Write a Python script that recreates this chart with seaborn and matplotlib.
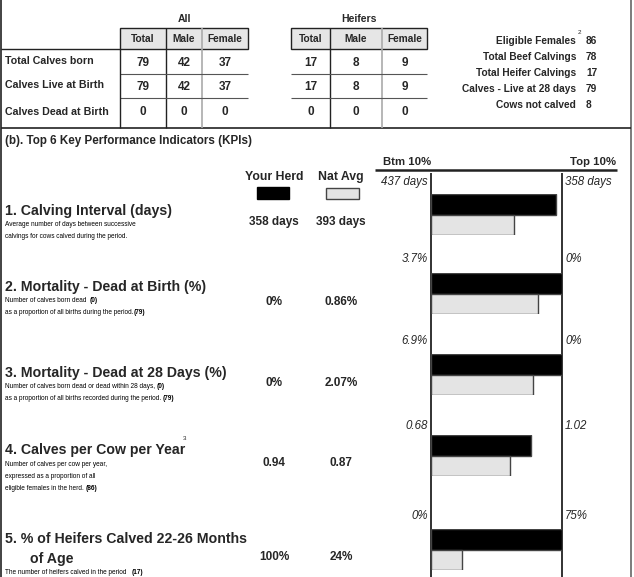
import numpy as np
import pandas as pd
import seaborn as sns
import matplotlib.pyplot as plt

sns.set_theme(style="white")
plt.rcParams['font.family'] = ['Liberation Sans', 'DejaVu Sans']

W, H = 634, 577

# (a) calving summary
row_labels = ["Total Calves born", "Calves Live at Birth", "Calves Dead at Birth"]
col_labels = ["Total", "Male", "Female"]
all_total = [79, 79, 0]
all_male = [42, 42, 0]
all_female = [37, 37, 0]
heifer_total = [17, 17, 0]
heifer_male = [8, 8, 0]
heifer_female = [9, 9, 0]

summary_labels = ["Eligible Females", "Total Beef Calvings", "Total Heifer Calvings",
                  "Calves - Live at 28 days", "Cows not calved"]
summary_values = [86, 78, 17, 79, 8]

# (b) KPIs
kpi_titles = ["1. Calving Interval (days)", "2. Mortality - Dead at Birth (%)",
              "3. Mortality - Dead at 28 Days (%)", "4. Calves per Cow per Year",
              "5. % of Heifers Calved 22-26 Months"]
kpi_desc = [
    [[("Average number of days between successive", False)],
     [("calvings for cows calved during the period.", False)]],
    [[("Number of calves born dead  ", False), ("(0)", True)],
     [("as a proportion of all births during the period.", False), ("(79)", True)]],
    [[("Number of calves born dead or dead within 28 days, ", False), ("(0)", True)],
     [("as a proportion of all births recorded during the period. ", False), ("(79)", True)]],
    [[("Number of calves per cow per year,", False)],
     [("expressed as a proportion of all", False)],
     [("eligible females in the herd. ", False), ("(86)", True)]],
    [[("The number of heifers calved in the period   ", False), ("(17)", True)]],
]
herd_text = ["358 days", "0%", "0%", "0.94", "100%"]
nat_text = ["393 days", "0.86%", "2.07%", "0.87", "24%"]
btm_text = ["437 days", "3.7%", "6.9%", "0.68", "0%"]
top_text = ["358 days", "0%", "0%", "1.02", "75%"]
# bar length as share of the Btm 10% -> Top 10% range
herd_score = [0.955, 1.0, 1.0, 0.76, 1.0]
nat_score = [0.63, 0.82, 0.78, 0.60, 0.24]

# layout (pixels from top)
title_y = [211, 287, 373, 450, 539]
desc_y = [225, 300, 387, 464, 572]
value_y = [222, 302, 383, 463, 557]
range_y = [182, 259, 341, 426, 516]
bar_top = [194, 273, 354, 435, 529]

fig = plt.figure(figsize=(W / 100, H / 100), dpi=100)
bg = fig.add_axes([0, 0, 1, 1])
bg.set_xlim(0, W)
bg.set_ylim(H, 0)
bg.axis("off")
renderer = fig.canvas.get_renderer()

dark = "#222222"
grey_line = "#aaaaaa"


def line(x0, x1, y0, y1, c=dark, lw=1.0):
    bg.plot([x0, x1], [y0, y1], color=c, lw=lw, solid_capstyle="butt")


def runs(x, y, parts, size):
    for s, bold in parts:
        t = bg.text(x, y, s, fontsize=size, fontweight="bold" if bold else "normal",
                    va="center", ha="left", color="black")
        x = t.get_window_extent(renderer).x1
    return x


# frame
line(1, 1, 0, H, lw=1.2)
line(631, 631, 0, H, c="#666666", lw=1.2)
line(1, 631, 128, 128, lw=1.2)

# tables
for (x0, seps, x1, name, cols) in [
        (120, [166, 202], 248, "All", [all_total, all_male, all_female]),
        (291, [330, 382], 427, "Heifers", [heifer_total, heifer_male, heifer_female])]:
    bg.add_patch(plt.Rectangle((x0, 28), x1 - x0, 21, facecolor="#e6e6e6",
                               edgecolor=dark, lw=1.0))
    bg.text((x0 + x1) / 2, 19, name, fontsize=7.5, fontweight="bold", ha="center", va="center")
    edges = [x0] + seps + [x1]
    for j, lab in enumerate(col_labels):
        cx = (edges[j] + edges[j + 1]) / 2
        bg.text(cx, 39, lab, fontsize=7.3, fontweight="bold", ha="center", va="center")
        for r, yv in enumerate([63, 87, 112]):
            bg.text(cx, yv, str(cols[j][r]), fontsize=8.5, fontweight="bold",
                    ha="center", va="center")
    line(seps[0], seps[0], 28, 128, lw=1.0)
    line(seps[1], seps[1], 28, 128, c=grey_line, lw=1.2)
    for yv in [74, 98]:
        line(x0, x1, yv, yv, c="#555555", lw=0.8)
line(1, 120, 49, 49, lw=1.0)
line(120, 120, 49, 128, lw=1.0)
for r, yv in enumerate([61, 85, 112]):
    bg.text(5, yv, row_labels[r], fontsize=7.7, fontweight="bold", va="center")

# summary counts
for r, yv in enumerate([41, 57, 73, 89, 105]):
    t = bg.text(576, yv, summary_labels[r], fontsize=7.3, fontweight="bold",
                ha="right", va="center")
    bg.text(586, yv, str(summary_values[r]), fontsize=7.3, fontweight="bold", va="center")
bg.text(578, 33, "2", fontsize=4.5, va="center")

# KPI section header
bg.text(5, 141, "(b). Top 6 Key Performance Indicators (KPIs)", fontsize=8.4,
        fontweight="bold", va="center")
bg.text(274, 177, "Your Herd", fontsize=8.8, fontweight="bold", ha="center", va="center")
bg.text(341, 177, "Nat Avg", fontsize=8.8, fontweight="bold", ha="center", va="center")
bg.add_patch(plt.Rectangle((257, 187), 32, 12, facecolor="black", edgecolor="black", lw=1))
bg.add_patch(plt.Rectangle((326, 188), 33, 11, facecolor="#e4e4e4", edgecolor="#444444", lw=1))
bg.text(383, 162, "Btm 10%", fontsize=8.2, fontweight="bold", va="center")
bg.text(616, 162, "Top 10%", fontsize=8.2, fontweight="bold", va="center", ha="right")
line(375, 617, 169.5, 169.5, lw=1.8)
line(431, 431, 173, H, lw=1.3)
line(562, 562, 173, H, lw=1.3)

for i in range(len(kpi_titles)):
    t = bg.text(5, title_y[i], kpi_titles[i], fontsize=10.2, fontweight="bold", va="center")
    if i == 3:
        bg.text(t.get_window_extent(renderer).x1 - 2, title_y[i] - 11, "3",
                fontsize=4.5, va="center")
    for k, parts in enumerate(kpi_desc[i]):
        runs(5, desc_y[i] + 12 * k, parts, 4.7)
    bg.text(274, value_y[i], herd_text[i], fontsize=8.5, fontweight="bold", ha="center", va="center")
    bg.text(341, value_y[i], nat_text[i], fontsize=8.5, fontweight="bold", ha="center", va="center")
    bg.text(428, range_y[i], btm_text[i], fontsize=8.3, style="italic", ha="right", va="center")
    bg.text(565, range_y[i], top_text[i], fontsize=8.3, style="italic", ha="left", va="center")

    ax = fig.add_axes([431 / W, 1 - (bar_top[i] + 41) / H, 131 / W, 41 / H])
    df = pd.DataFrame({"group": ["Your Herd", "Nat Avg"],
                       "score": [herd_score[i], nat_score[i]]})
    sns.barplot(data=df, x="score", y="group", hue="group",
                palette=["black", "#e4e4e4"], width=1.0, edgecolor="#444444",
                linewidth=1.0, legend=False, ax=ax)
    ax.set_xlim(0, 1)
    ax.set_ylim(1.5, -0.5)
    ax.axis("off")

bg.text(30, 559, "of Age", fontsize=10.2, fontweight="bold", va="center")

fig.savefig("out.png", dpi=100)
